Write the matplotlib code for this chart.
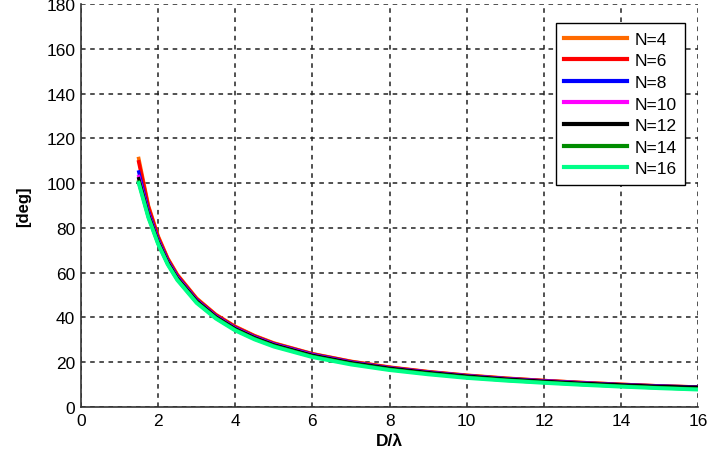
import matplotlib.pyplot as plt

plt.rcParams['font.family'] = ['Liberation Sans', 'DejaVu Sans']

# D/lambda sample points
d_lambda = [1.5, 1.75, 2, 2.25, 2.5, 3, 3.5, 4, 4.5, 5, 6, 7, 8, 9, 10, 11, 12, 13, 14, 15, 16]

# beamwidth [deg] for each number of elements
bw_n4 = [111, 90, 76.5, 66.5, 59.2, 48.6, 41.3, 36.0, 31.9, 28.6, 23.8, 20.4, 17.8, 15.8, 14.2, 12.9, 11.8, 10.9, 10.1, 9.4, 8.9]
bw_n6 = [109.5, 89.4, 76.0, 66.2, 58.9, 48.3, 41.1, 35.8, 31.7, 28.4, 23.7, 20.3, 17.7, 15.7, 14.1, 12.8, 11.8, 10.9, 10.1, 9.4, 8.9]
bw_n8 = [105, 87.5, 75.0, 65.5, 58.3, 47.9, 40.7, 35.4, 31.4, 28.2, 23.5, 20.1, 17.5, 15.6, 14.0, 12.7, 11.7, 10.8, 10.0, 9.4, 8.9]
bw_n10 = [103, 86.5, 74.4, 65.0, 57.9, 47.6, 40.5, 35.2, 31.2, 28.0, 23.3, 19.9, 17.4, 15.5, 13.9, 12.6, 11.6, 10.7, 9.9, 9.2, 8.7]
bw_n12 = [102, 86.0, 74.0, 64.7, 57.6, 47.4, 40.3, 35.0, 31.0, 27.8, 23.1, 19.8, 17.3, 15.4, 13.8, 12.5, 11.5, 10.6, 9.9, 9.2, 8.8]
bw_n14 = [100.5, 85.0, 73.2, 64.0, 57.0, 46.8, 39.8, 34.5, 30.5, 27.3, 22.6, 19.3, 16.8, 14.9, 13.3, 12.0, 11.0, 10.1, 9.3, 8.6, 8.0]
bw_n16 = [100, 84.6, 72.9, 63.7, 56.7, 46.5, 39.5, 34.2, 30.2, 27.0, 22.3, 19.0, 16.5, 14.6, 13.0, 11.8, 10.8, 9.9, 9.1, 8.4, 7.8]

labels = ['N=4', 'N=6', 'N=8', 'N=10', 'N=12', 'N=14', 'N=16']
series = [bw_n4, bw_n6, bw_n8, bw_n10, bw_n12, bw_n14, bw_n16]
colors = ['#ff6a00', '#ff0000', '#0000ff', '#ff00ff', '#000000', '#008c00', '#00ff88']
widths = [2.6, 2.6, 2.4, 2.4, 2.4, 2.6, 2.8]

fig = plt.figure(figsize=(7.09, 4.6), dpi=100)
ax = fig.add_axes([0.114, 0.113, 0.871, 0.876])

for y, lab, c, lw in zip(series, labels, colors, widths):
    ax.plot(d_lambda, y, color=c, lw=lw, label=lab)

ax.set_xlim(0, 16)
ax.set_ylim(0, 180)
ax.set_xticks(range(0, 17, 2))
ax.set_yticks(range(0, 181, 20))
ax.tick_params(labelsize=12.5, length=0, pad=4)
ax.grid(True, color='#222222', linestyle=(0, (3, 3)), linewidth=1.1)

for side in ['top', 'right']:
    ax.spines[side].set_visible(False)
for side in ['left', 'bottom']:
    ax.spines[side].set_linewidth(1.2)
    ax.spines[side].set_color('#333333')

ax.set_xlabel('D/λ', fontsize=12.5, fontweight='bold', labelpad=4)
ax.set_ylabel('[deg]', fontsize=12, fontweight='bold', labelpad=11)

leg = ax.legend(loc='upper right', bbox_to_anchor=(0.979, 0.953), fontsize=12.5,
                handlelength=3.6, handletextpad=0.45, labelspacing=0.37,
                borderaxespad=0, fancybox=False, framealpha=1, borderpad=0.5)
leg.get_frame().set_edgecolor('black')
leg.get_frame().set_linewidth(1.0)
for line in leg.get_lines():
    line.set_linewidth(3)

fig.savefig('out.png', dpi=100)
